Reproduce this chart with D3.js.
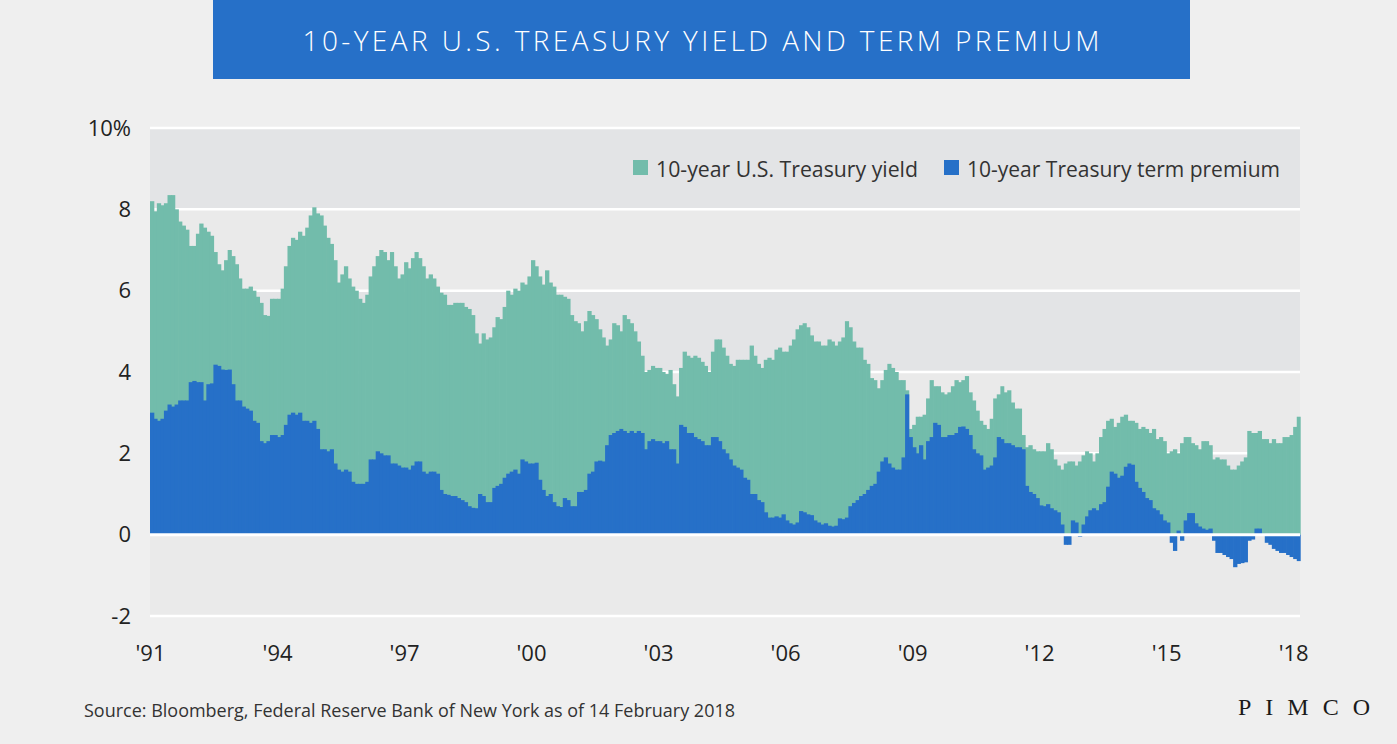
<!DOCTYPE html>
<html>
<head>
<meta charset="utf-8">
<script src="https://cdn.jsdelivr.net/npm/d3@7"></script>
<style>
  body { margin: 0; background: #efefef; }
  svg { display: block; font-family: "Open Sans", "Noto Sans", sans-serif; }
</style>
</head>
<body>
<div id="chart"></div>
<script>
// Monthly values, Jan 1991 - Feb 2018 (one line per year)
const startYear = 1991;
const yieldVals = [
  8.2, 7.95, 8.15, 8.1, 8.15, 8.35, 8.35, 8.0, 7.7, 7.6, 7.5, 7.1,
  7.1, 7.4, 7.65, 7.55, 7.45, 7.35, 6.95, 6.65, 6.5, 6.75, 7.0, 6.85,
  6.65, 6.3, 6.05, 6.05, 6.1, 6.0, 5.85, 5.7, 5.4, 5.38, 5.8, 5.8,
  5.8, 6.05, 6.6, 7.1, 7.3, 7.25, 7.45, 7.35, 7.55, 7.85, 8.05, 7.9,
  7.85, 7.6, 7.3, 7.15, 6.75, 6.2, 6.4, 6.6, 6.3, 6.1, 6.0, 5.8,
  5.7, 5.9, 6.35, 6.6, 6.85, 7.0, 6.95, 6.75, 6.95, 6.6, 6.3, 6.4,
  6.7, 6.55, 6.8, 6.95, 6.8, 6.6, 6.3, 6.4, 6.3, 6.1, 5.95, 5.9,
  5.65, 5.65, 5.7, 5.7, 5.7, 5.6, 5.55, 5.4, 4.95, 4.7, 4.95, 4.8,
  4.85, 5.1, 5.35, 5.3, 5.6, 6.0, 5.9, 6.05, 6.0, 6.2, 6.15, 6.35,
  6.75, 6.6, 6.35, 6.15, 6.5, 6.2, 6.1, 5.9, 5.9, 5.85, 5.8, 5.4,
  5.25, 5.2, 5.0, 5.25, 5.5, 5.4, 5.3, 5.05, 4.85, 4.65, 4.8, 5.2,
  5.15, 5.0, 5.4, 5.3, 5.2, 5.0, 4.75, 4.4, 4.0, 4.05, 4.15, 4.1,
  4.1, 4.0, 3.95, 4.05, 3.7, 3.4, 4.1, 4.5, 4.4, 4.35, 4.4, 4.35,
  4.25, 4.15, 4.0, 4.5, 4.8, 4.8, 4.6, 4.4, 4.2, 4.15, 4.3, 4.3,
  4.3, 4.3, 4.65, 4.4, 4.2, 4.1, 4.3, 4.35, 4.3, 4.55, 4.6, 4.5,
  4.5, 4.65, 4.8, 5.05, 5.15, 5.2, 5.1, 4.9, 4.75, 4.75, 4.65, 4.65,
  4.8, 4.75, 4.65, 4.75, 4.85, 5.25, 5.1, 4.75, 4.6, 4.6, 4.3, 4.2,
  3.85, 3.8, 3.6, 3.8, 4.05, 4.2, 4.1, 4.0, 3.8, 3.8, 3.55, 2.6,
  2.7, 2.9, 2.9, 2.95, 3.35, 3.8, 3.65, 3.65, 3.5, 3.45, 3.5, 3.65,
  3.8, 3.75, 3.8, 3.9, 3.5, 3.3, 3.05, 2.8, 2.7, 2.6, 2.85, 3.35,
  3.45, 3.65, 3.5, 3.55, 3.25, 3.1, 3.1, 2.45, 2.15, 2.2, 2.1, 2.05,
  2.05, 2.05, 2.25, 2.1, 1.85, 1.7, 1.6, 1.75, 1.8, 1.8, 1.7, 1.8,
  1.95, 2.05, 2.0, 1.8, 2.0, 2.4, 2.6, 2.8, 2.85, 2.65, 2.75, 2.9,
  2.95, 2.8, 2.8, 2.75, 2.6, 2.65, 2.6, 2.5, 2.6, 2.35, 2.4, 2.3,
  2.0, 2.05, 2.1, 2.0, 2.25, 2.4, 2.4, 2.25, 2.2, 2.1, 2.3, 2.3,
  2.2, 1.85, 1.9, 1.85, 1.85, 1.7, 1.6, 1.6, 1.7, 1.8, 1.9, 2.55,
  2.5, 2.5, 2.55, 2.35, 2.35, 2.25, 2.35, 2.25, 2.25, 2.4, 2.4, 2.45,
  2.65, 2.9
];
const premiumVals = [
  3.0, 2.85, 2.8, 2.85, 3.05, 3.2, 3.15, 3.2, 3.3, 3.3, 3.3, 3.75,
  3.78, 3.75, 3.75, 3.3, 3.7, 3.72, 4.18, 4.15, 4.06, 4.05, 4.06, 3.7,
  3.3, 3.3, 3.15, 3.1, 3.05, 2.8, 2.75, 2.3, 2.25, 2.3, 2.45, 2.45,
  2.4, 2.45, 2.7, 2.95, 3.0, 2.95, 3.0, 2.8, 2.8, 2.75, 2.8, 2.6,
  2.1, 2.1, 2.05, 2.1, 1.75, 1.6, 1.55, 1.6, 1.55, 1.3, 1.25, 1.25,
  1.25, 1.3, 1.85, 1.85, 2.05, 2.0, 1.95, 1.95, 1.75, 1.75, 1.7, 1.65,
  1.65, 1.6, 1.7, 1.8, 1.8, 1.55, 1.5, 1.55, 1.55, 1.5, 1.1, 1.0,
  0.98, 0.95, 0.95, 0.9, 0.85, 0.8, 0.7, 0.66, 0.65, 1.0, 0.95, 0.8,
  0.8, 1.15, 1.2, 1.25, 1.4, 1.5, 1.55, 1.6, 1.5, 1.85, 1.8, 1.75,
  1.75, 1.77, 1.35, 1.1, 0.95, 1.0, 0.8, 0.7, 0.68, 0.9, 0.85, 0.7,
  0.7, 1.05, 1.05, 1.1, 1.5, 1.55, 1.8, 1.82, 1.8, 2.2, 2.45, 2.5,
  2.55, 2.6, 2.55, 2.5, 2.55, 2.5, 2.55, 2.5, 2.1, 2.3, 2.35, 2.3,
  2.3, 2.25, 2.3, 2.1, 2.1, 1.75, 2.7, 2.65, 2.5, 2.5, 2.4, 2.35,
  2.3, 2.2, 2.2, 2.4, 2.4, 2.3, 2.1, 2.0, 1.85, 1.7, 1.65, 1.6,
  1.4, 1.35, 1.0, 1.0, 0.85, 0.8, 0.55, 0.42, 0.42, 0.45, 0.42, 0.5,
  0.35, 0.28, 0.25, 0.3, 0.58, 0.55, 0.5, 0.48, 0.35, 0.3, 0.25, 0.28,
  0.22, 0.2, 0.22, 0.4, 0.38, 0.42, 0.7, 0.78, 0.85, 0.95, 1.0, 1.1,
  1.2, 1.25, 1.55, 1.8, 1.9, 1.75, 1.65, 1.6, 1.6, 1.9, 3.45, 2.4,
  2.15, 2.0, 2.2, 1.85, 2.3, 2.4, 2.75, 2.7, 2.4, 2.4, 2.45, 2.45,
  2.5, 2.65, 2.66, 2.6, 2.45, 2.1, 2.0, 1.95, 1.6, 1.65, 1.7, 1.9,
  2.4, 2.35, 2.25, 2.25, 2.2, 2.15, 2.15, 2.1, 1.2, 1.05, 1.0, 0.9,
  0.72, 0.7, 0.75, 0.65, 0.6, 0.55, 0.25, -0.25, -0.25, 0.35, 0.3, -0.05,
  0.25, 0.45, 0.6, 0.65, 0.6, 0.75, 0.8, 1.18, 1.55, 1.5, 1.4, 1.45,
  1.67, 1.75, 1.72, 1.3, 1.15, 1.05, 0.9, 0.85, 0.65, 0.6, 0.5, 0.35,
  0.3, -0.2, -0.4, 0.1, -0.15, 0.35, 0.53, 0.53, 0.28, 0.2, 0.15, 0.12,
  0.15, -0.15, -0.45, -0.45, -0.5, -0.55, -0.6, -0.8, -0.72, -0.7, -0.68, -0.15,
  -0.12, 0.15, 0.15, 0.02, -0.2, -0.25, -0.35, -0.4, -0.45, -0.45, -0.5, -0.55,
  -0.6, -0.65
];
const tickYears = [1991, 1994, 1997, 2000, 2003, 2006, 2009, 2012, 2015, 2018];
const yTicks = [-2, 0, 2, 4, 6, 8, 10];
const legendLabels = ["10-year U.S. Treasury yield", "10-year Treasury term premium"];

const W = 1397, H = 744;
const plot = { left: 150, right: 1300, top: 128, bottom: 616 };
const teal = "#72bcab", blue = "#2670c8";

const svg = d3.select("#chart").append("svg")
  .attr("width", W)
  .attr("height", H);

svg.append("rect").attr("width", W).attr("height", H).attr("fill", "#efefef");

// Title bar
svg.append("rect")
  .attr("x", 213).attr("y", 0).attr("width", 977).attr("height", 79)
  .attr("fill", blue);
svg.append("text")
  .attr("x", 701).attr("y", 51)
  .attr("text-anchor", "middle")
  .attr("fill", "#fff")
  .style("font-size", "28px")
  .style("font-weight", 300)
  .attr("textLength", 797)
  .attr("lengthAdjust", "spacing")
  .text("10-YEAR U.S. TREASURY YIELD AND TERM PREMIUM");

// Scales
const months = yieldVals.map((v, i) => new Date(startYear, i, 1));
const x = d3.scaleTime()
  .domain([new Date(startYear, 0, 1), new Date(startYear, yieldVals.length, 1)])
  .range([plot.left, plot.right]);
const y = d3.scaleLinear().domain([-2, 10]).range([plot.bottom, plot.top]);

// Background bands
const bands = d3.pairs(yTicks);
svg.append("g").selectAll("rect")
  .data(bands)
  .join("rect")
  .attr("x", plot.left)
  .attr("width", plot.right - plot.left)
  .attr("y", d => y(d[1]))
  .attr("height", d => y(d[0]) - y(d[1]))
  .attr("fill", (d, i) => (i % 2 === 0 ? "#eaeaea" : "#e3e4e6"));

// Gridlines
svg.append("g").selectAll("line")
  .data(yTicks)
  .join("line")
  .attr("x1", plot.left).attr("x2", plot.right)
  .attr("y1", d => y(d)).attr("y2", d => y(d))
  .attr("stroke", "#fff")
  .attr("stroke-width", 2.5);

const barW = (i) => x(new Date(startYear, i + 1, 1)) - x(months[i]) + 0.7;

// Yield bars
svg.append("g").selectAll("rect")
  .data(yieldVals)
  .join("rect")
  .attr("x", (d, i) => x(months[i]))
  .attr("width", (d, i) => barW(i))
  .attr("y", d => y(d))
  .attr("height", d => y(0) - y(d))
  .attr("fill", teal);

// Term premium bars
svg.append("g").selectAll("rect")
  .data(premiumVals)
  .join("rect")
  .attr("x", (d, i) => x(months[i]))
  .attr("width", (d, i) => barW(i))
  .attr("y", d => y(Math.max(0, d)))
  .attr("height", d => Math.abs(y(0) - y(d)))
  .attr("fill", blue);

// Zero line on top
svg.append("line")
  .attr("x1", plot.left).attr("x2", plot.right)
  .attr("y1", y(0)).attr("y2", y(0))
  .attr("stroke", "#fff")
  .attr("stroke-width", 3);

// Y axis
const yAxis = svg.append("g")
  .attr("transform", `translate(${plot.left},0)`)
  .call(d3.axisLeft(y).tickValues(yTicks).tickSize(0).tickPadding(19)
    .tickFormat(d => (d === 10 ? "10%" : d)));
yAxis.select(".domain").remove();
yAxis.selectAll("text")
  .style("font-size", "22px")
  .style("font-family", "'Open Sans', sans-serif")
  .attr("fill", "#222");

// X axis
const xAxis = svg.append("g")
  .attr("transform", `translate(0,${plot.bottom})`)
  .call(d3.axisBottom(x)
    .tickValues(tickYears.map(yr => new Date(yr, 0, 1)))
    .tickSize(0).tickPadding(29)
    .tickFormat(d3.timeFormat("'%y")));
xAxis.select(".domain").remove();
xAxis.selectAll("text")
  .style("font-size", "22px")
  .style("font-family", "'Open Sans', sans-serif")
  .attr("fill", "#222");

// Legend
const legendPos = [{ sx: 633, tx: 656, len: 262 }, { sx: 944, tx: 967, len: 313 }];
const legend = svg.append("g").selectAll("g")
  .data(legendLabels)
  .join("g");
legend.append("rect")
  .attr("x", (d, i) => legendPos[i].sx)
  .attr("y", 160)
  .attr("width", 15).attr("height", 15)
  .attr("fill", (d, i) => (i === 0 ? teal : blue));
legend.append("text")
  .attr("x", (d, i) => legendPos[i].tx)
  .attr("y", 177)
  .attr("textLength", (d, i) => legendPos[i].len)
  .attr("lengthAdjust", "spacingAndGlyphs")
  .style("font-size", "22px")
  .attr("fill", "#333")
  .text(d => d);

// Source and logo
svg.append("text")
  .attr("x", 84).attr("y", 717)
  .style("font-size", "18px")
  .attr("fill", "#333")
  .attr("textLength", 651)
  .attr("lengthAdjust", "spacingAndGlyphs")
  .text("Source: Bloomberg, Federal Reserve Bank of New York as of 14 February 2018");

svg.append("text")
  .attr("x", 1238).attr("y", 715)
  .style("font-family", "'Liberation Serif', 'DejaVu Serif', serif")
  .style("font-size", "24px")
  .attr("fill", "#1a1a1a")
  .attr("textLength", 132)
  .attr("lengthAdjust", "spacing")
  .text("PIMCO");
</script>
</body>
</html>
